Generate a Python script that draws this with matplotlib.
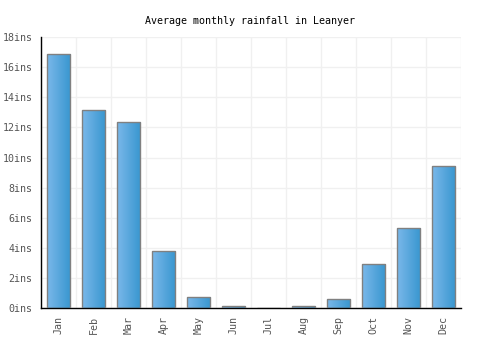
import matplotlib.pyplot as plt
import numpy as np
from matplotlib.colors import LinearSegmentedColormap

months = ["Jan", "Feb", "Mar", "Apr", "May", "Jun", "Jul", "Aug", "Sep", "Oct", "Nov", "Dec"]
rainfall = [16.85, 13.13, 12.33, 3.76, 0.75, 0.11, 0.0, 0.1, 0.58, 2.9, 5.29, 9.43]
yticks = list(range(0, 20, 2))

fig = plt.figure(figsize=(5, 3.5), dpi=100)
ax = fig.add_axes([0.082, 0.12, 0.84, 0.774])

x = np.arange(len(months))
bars = ax.bar(x, rainfall, width=0.67, color="none", edgecolor="#808080", linewidth=1, zorder=3)

# horizontal gradient inside each bar
cmap = LinearSegmentedColormap.from_list("bar", ["#7ab8ea", "#3896cf"])
grad = np.linspace(0, 1, 64).reshape(1, -1)
for b in bars:
    x0, y0 = b.get_x(), b.get_y()
    w, h = b.get_width(), b.get_height()
    if h <= 0:
        continue
    im = ax.imshow(grad, cmap=cmap, aspect="auto", extent=[x0, x0 + w, y0, y0 + h],
                   zorder=2, interpolation="bicubic")
    im.set_clip_path(b)

font = "DejaVu Sans Mono"
ax.set_xlim(-0.5, len(months) - 0.5)
ax.set_ylim(0, 18)
ax.set_xticks(x)
ax.set_xticklabels(months, rotation=90, family=font, fontsize=7.2, color="#555555")
ax.set_xticks(np.arange(len(months) + 1) - 0.5, minor=True)
ax.set_yticks(yticks)
ax.set_yticklabels([f"{v}ins" for v in yticks], family=font, fontsize=7.2, color="#555555")
ax.tick_params(axis="both", which="both", length=0, pad=6)
ax.grid(True, which="minor", axis="x", color="#f0f0f0", linewidth=1, zorder=0)
ax.grid(True, which="major", axis="y", color="#f0f0f0", linewidth=1, zorder=0)
ax.set_axisbelow(True)
for s in ["top", "right"]:
    ax.spines[s].set_visible(False)
for s in ["left", "bottom"]:
    ax.spines[s].set_color("black")
    ax.spines[s].set_linewidth(1)

fig.suptitle("Average monthly rainfall in Leanyer", y=0.955, family=font, fontsize=7.2)

fig.savefig("out.png", dpi=100)
